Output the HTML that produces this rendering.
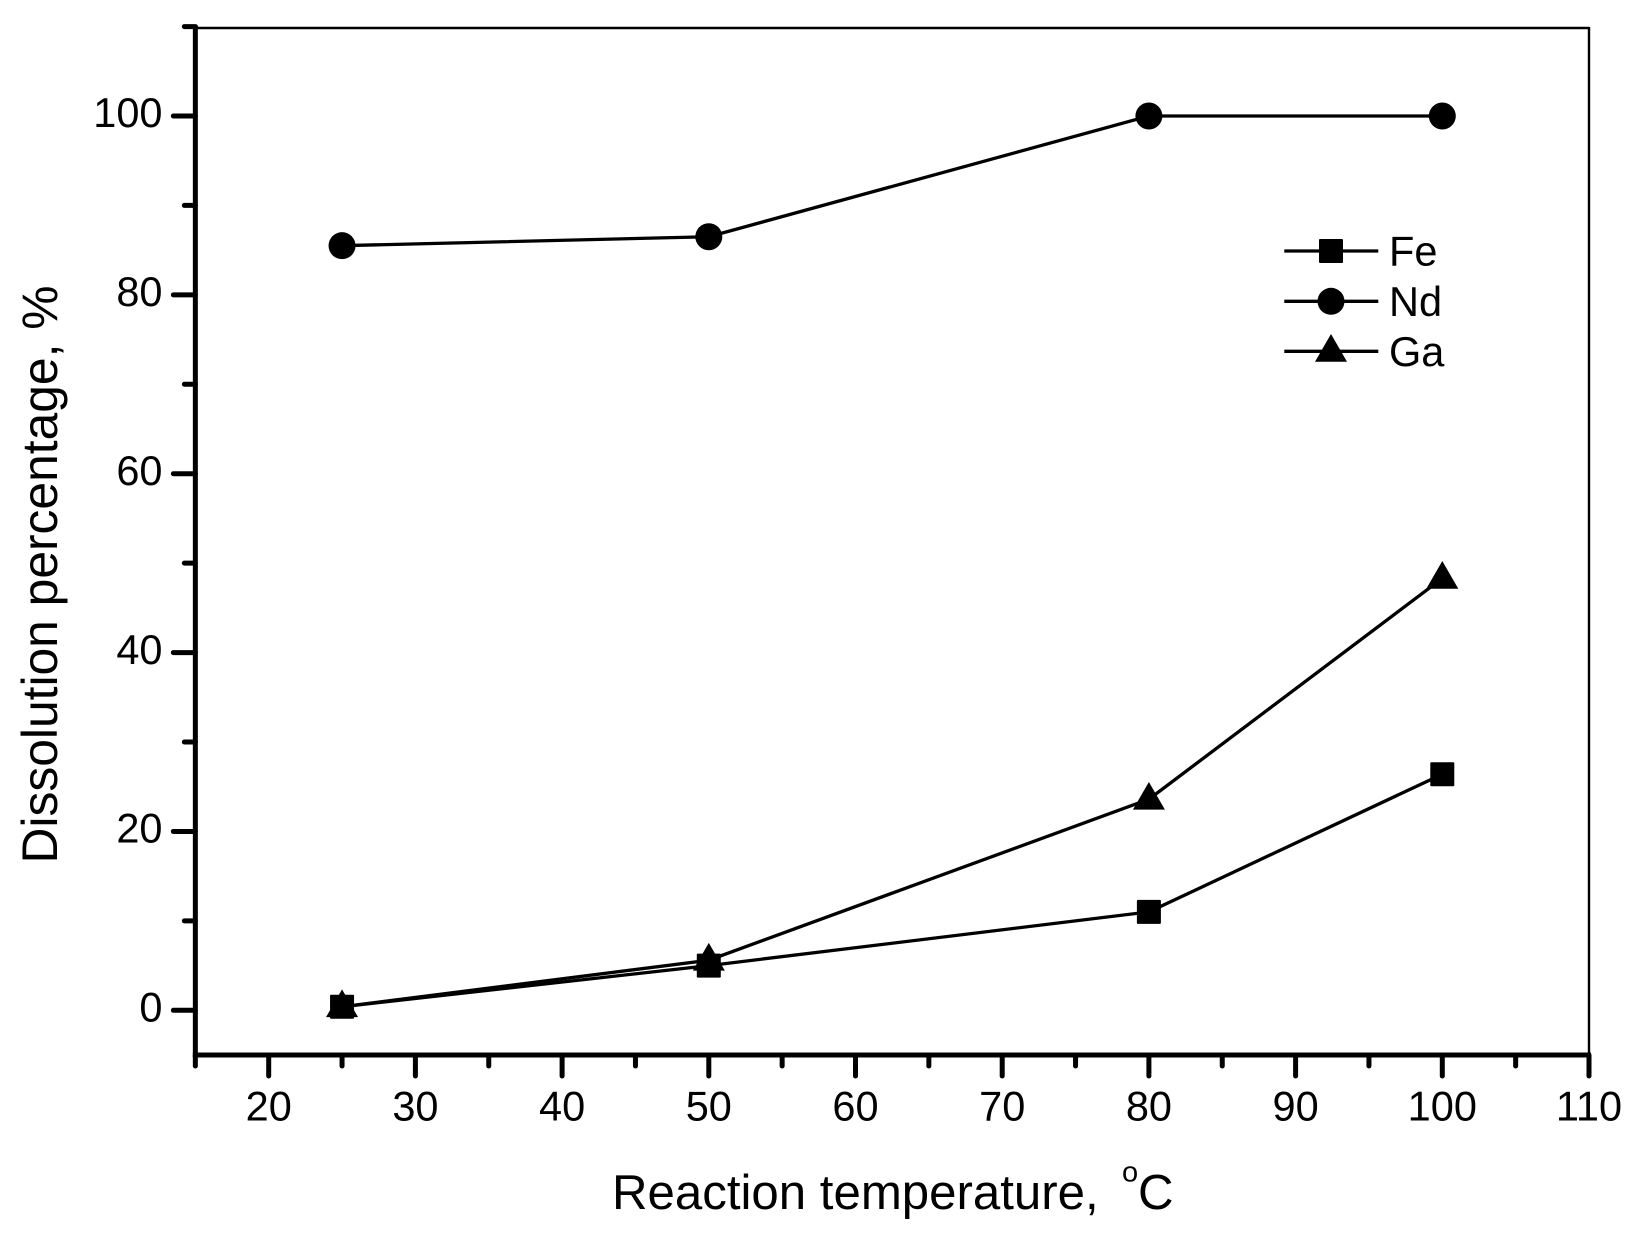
<!DOCTYPE html>
<html lang="en">
<head>
<meta charset="utf-8">
<title>Dissolution percentage vs reaction temperature</title>
<style>
html,body{margin:0;padding:0;background:#fff;width:1645px;height:1233px;overflow:hidden}
svg{display:block}
text{font-family:"Liberation Sans",Arial,sans-serif;fill:#000}
</style>
</head>
<body>
<svg id="chart" xmlns="http://www.w3.org/2000/svg" width="1645" height="1233" viewBox="0 0 1645 1233">
  <rect x="0" y="0" width="1645" height="1233" fill="#fff"/>
  <g id="frame"></g>
  <g id="x-axis"></g>
  <g id="y-axis"></g>
  <g id="series"></g>
  <g id="legend"></g>
  <text x="612" y="1209" font-size="49.2">Reaction temperature,<tspan font-size="29" x="1122" y="1181.5">o</tspan><tspan x="1138" y="1209">C</tspan></text>
  <text transform="translate(57,863.5) rotate(-90)" x="0" y="0" font-size="49.75">Dissolution percentage, %</text>
</svg>
<script>
const temperatures = [25, 50, 80, 100];
const feValues = [0.4, 5.0, 11.0, 26.4];
const ndValues = [85.5, 86.5, 100, 100];
const gaValues = [0.4, 5.6, 23.6, 48.3];
const xMajorTicks = [20, 30, 40, 50, 60, 70, 80, 90, 100, 110];
const xMinorTicks = [15, 25, 35, 45, 55, 65, 75, 85, 95, 105];
const yMajorTicks = [0, 20, 40, 60, 80, 100];
const yMinorTicks = [10, 30, 50, 70, 90, 110];

const NS = 'http://www.w3.org/2000/svg';
const xScale = v => 268.7 + (v - 20) * 14.67;
const yScale = v => 1010.3 - v * 8.943;
const left = xScale(15), right = xScale(110), bottom = yScale(-5), top_ = 27.5;

function make(parent, tag, attrs) {
  const el = document.createElementNS(NS, tag);
  for (const k in attrs) el.setAttribute(k, attrs[k]);
  parent.appendChild(el);
  return el;
}

const frame = document.getElementById('frame');
const xAxisG = document.getElementById('x-axis');
const yAxisG = document.getElementById('y-axis');
const seriesG = document.getElementById('series');
const legendG = document.getElementById('legend');

const frameTop = make(frame, 'line', {x1: left, y1: top_ + 0.5, x2: right, y2: top_ + 0.5, stroke: '#000', 'stroke-width': 2.4});


const frameRight = make(frame, 'line', {x1: right, y1: top_ - 0.5, x2: right, y2: bottom, stroke: '#000', 'stroke-width': 2.4});



const xLine = make(xAxisG, 'line', {x1: left - 2.5, y1: bottom, x2: right + 2, y2: bottom, stroke: '#000', 'stroke-width': 5});


const yLine = make(yAxisG, 'line', {x1: left, y1: top_ - 2, x2: left, y2: bottom + 2.5, stroke: '#000', 'stroke-width': 5});



function xTick(v, len, kind) {
  const t = make(xAxisG, 'line', {x1: xScale(v), y1: bottom, x2: xScale(v), y2: bottom + len, stroke: '#000', 'stroke-width': 5, 'stroke-linecap': 'round'});
  
  
}
function yTick(v, len, kind) {
  const t = make(yAxisG, 'line', {x1: left, y1: yScale(v), x2: left - len, y2: yScale(v), stroke: '#000', 'stroke-width': 5, 'stroke-linecap': 'round'});
  
  
}

xMinorTicks.forEach(v => xTick(v, 11, 'minor'));
xMajorTicks.forEach(v => {
  xTick(v, 21, 'major');
  const label = make(xAxisG, 'text', {x: xScale(v), y: 1120.7, 'font-size': 41.5, 'text-anchor': 'middle'});
  
  
  label.textContent = v;
});
yMinorTicks.forEach(v => yTick(v, 11, 'minor'));
yMajorTicks.forEach(v => {
  yTick(v, 22, 'major');
  const label = make(yAxisG, 'text', {x: 162.5, y: yScale(v) + 11.2, 'font-size': 41.5, 'text-anchor': 'end'});
  
  
  label.textContent = v;
});

function drawMarker(parent, shape, cx, cy) {
  let m;
  if (shape === 'square') {
    m = make(parent, 'rect', {x: cx - 12, y: cy - 12, width: 24, height: 24, rx: 1, fill: '#000'});
  } else if (shape === 'circle') {
    m = make(parent, 'circle', {cx: cx, cy: cy, r: 13.5, fill: '#000'});
  } else {
    m = make(parent, 'polygon', {points: (cx) + ',' + (cy - 17.3) + ' ' + (cx + 16) + ',' + (cy + 10.4) + ' ' + (cx - 16) + ',' + (cy + 10.4), fill: '#000'});
  }
  
  
}

function drawSeries(name, values, shape) {
  const g = make(seriesG, 'g', {});
  
  
  const pts = values.map((v, i) => xScale(temperatures[i]) + ',' + yScale(v)).join(' ');
  const line = make(g, 'polyline', {points: pts, fill: 'none', stroke: '#000', 'stroke-width': 3.3});
  
  
  values.forEach((v, i) => drawMarker(g, shape, xScale(temperatures[i]), yScale(v)));
}

drawSeries('fe', feValues, 'square');
drawSeries('nd', ndValues, 'circle');
drawSeries('ga', gaValues, 'triangle');

function legendEntry(label, shape, y) {
  const g = make(legendG, 'g', {});
  
  
  const line = make(g, 'line', {x1: 1284.3, y1: y, x2: 1378.3, y2: y, stroke: '#000', 'stroke-width': 3.3});
  
  
  drawMarker(g, shape, 1331, y);
  const text = make(g, 'text', {x: 1389, y: y + 14.6, 'font-size': 41.5});
  
  
  text.textContent = label;
}
legendEntry('Fe', 'square', 251);
legendEntry('Nd', 'circle', 301.3);
legendEntry('Ga', 'triangle', 351.3);
</script>
</body>
</html>
